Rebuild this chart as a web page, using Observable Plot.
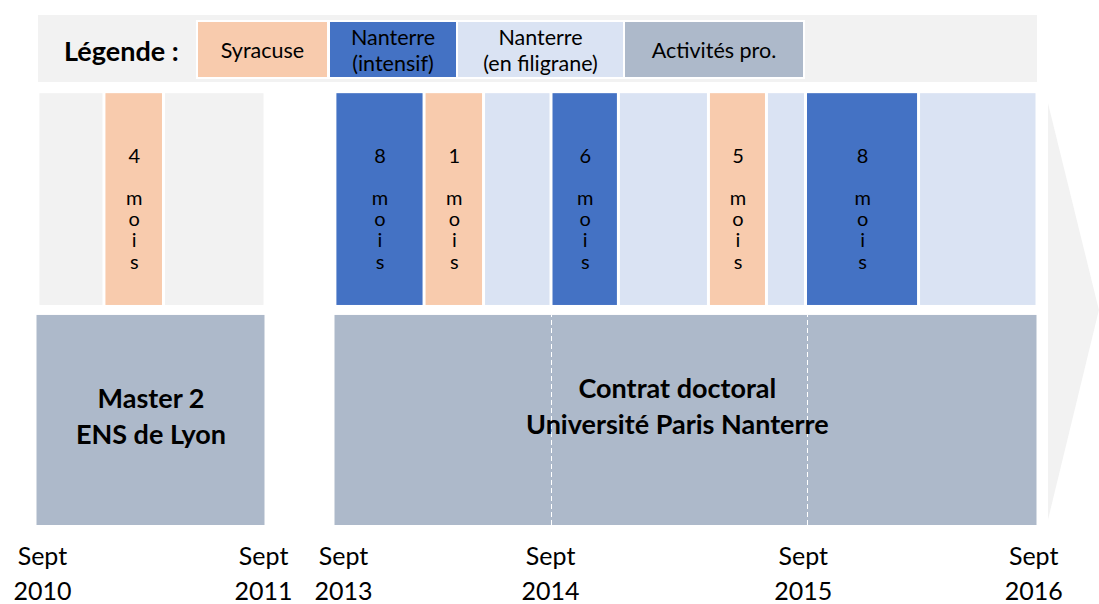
<!DOCTYPE html>
<html><head><meta charset="utf-8">
<script src="https://cdn.jsdelivr.net/npm/d3@7"></script>
<script src="https://cdn.jsdelivr.net/npm/@observablehq/plot@0.6"></script>
<style>
body{margin:0;background:#fff;font-family:Lato,"Open Sans",sans-serif;color:#000;}
#legend{position:relative;width:1099px;height:88px;}
#legend .band{position:absolute;left:38px;top:15px;width:999px;height:67px;background:#f2f2f2;}
#legend .title{position:absolute;left:64px;top:15px;height:67px;line-height:72px;font-weight:bold;font-size:27px;}
#legend .box{position:absolute;top:20px;height:59px;box-sizing:border-box;border:2px solid #fff;
  display:flex;align-items:center;justify-content:center;text-align:center;white-space:pre-line;font-size:21.5px;line-height:26px;}
#chart svg{display:block;}
</style></head><body>
<div id="legend"></div>
<div id="chart"></div>
<script>
// ---- Data ----
// Timeline positions are in months since September 2010
const tickMonths = [0, 12, 36, 48, 60, 72];
const tickLabels = ["Sept\n2010", "Sept\n2011", "Sept\n2013", "Sept\n2014", "Sept\n2015", "Sept\n2016"];
// where each date label sits along the timeline (months)
const tickLabelAt = [0.31, 11.9, 36.5, 47.95, 59.8, 71.8];

// Categories (legend)
const categories = ["Syracuse", "Nanterre (intensif)", "Nanterre (en filigrane)", "Activités pro.", "fond"];
const legendLabels = ["Syracuse", "Nanterre\n(intensif)", "Nanterre\n(en filigrane)", "Activités pro."];

// Upper lane: stays
const stayType  = ["fond", "Syracuse", "fond", "Nanterre (intensif)", "Syracuse", "Nanterre (en filigrane)", "Nanterre (intensif)", "Nanterre (en filigrane)", "Syracuse", "Nanterre (en filigrane)", "Nanterre (intensif)", "Nanterre (en filigrane)"];
const stayStart = [0.1, 3.56, 6.68, 36.05, 40.98, 44.27, 48.0, 51.16, 55.38, 58.10, 59.93, 65.82];
const stayEnd   = [3.56, 6.68, 12.0, 40.98, 44.27, 48.0, 51.16, 55.38, 58.10, 59.93, 65.82, 72.0];
const stayMonths = [null, 4, null, 8, 1, null, 6, null, 5, null, 8, null];

// Lower lane: professional activities
const actLabels = ["Master 2\nENS de Lyon", "Contrat doctoral\nUniversité Paris Nanterre"];
const actStart = [0, 36];
const actEnd = [12, 72];
const actLabelAt = [6, 53.9];
const yearMarks = [48, 60];

// ---- Layout / style (not data) ----
const palette = ["#f8cbad", "#4472c4", "#dae3f3", "#adb9ca", "#f2f2f2"];
const xPixels = [36, 265, 334, 551, 807, 1037];
const legendLeft = [196, 328, 456, 623];
const legendWidth = [133, 130, 169, 182];

// ---- Legend (HTML, above the SVG) ----
const leg = d3.select("#legend");
leg.append("div").attr("class", "band");
leg.append("div").attr("class", "title").text("Légende :");
legendLabels.forEach((t, i) => {
  leg.append("div").attr("class", "box")
    .style("left", legendLeft[i] + "px").style("width", legendWidth[i] + "px")
    .style("background", palette[i]).text(t);
});

// ---- Build tables ----
const stays = stayType.map((t, i) => ({type: t, x1: stayStart[i], x2: stayEnd[i], months: stayMonths[i]}));
const acts = actLabels.map((l, i) => ({label: l, x1: actStart[i], x2: actEnd[i], lx: actLabelAt[i], type: "Activités pro."}));
const lastMonth = tickMonths[tickMonths.length - 1];
const chevron = [
  {x: lastMonth + 0.57, y1: 0.023, y2: 1.945},
  {x: lastMonth + 3.23, y1: 0.991, y2: 0.991}
];

const chart = Plot.plot({
  width: 1099, height: 516,
  marginTop: 3, marginBottom: 79, marginLeft: 36, marginRight: 62,
  x: {type: "linear", domain: tickMonths, range: xPixels},
  y: {domain: [0, 2], axis: null},
  color: {domain: categories, range: palette},
  style: {fontFamily: "Lato, sans-serif", color: "#000", background: "transparent", overflow: "visible"},
  marks: [
    Plot.area(chevron, {x1: "x", y1: "y1", y2: "y2", fill: "#f2f2f2"}),
    Plot.rect(stays, {x1: "x1", x2: "x2", y1: 1.014, y2: 1.99, fill: "type", insetLeft: 1.5, insetRight: 1.5}),
    Plot.text(stays.filter(d => d.months != null), {
      x: d => (d.x1 + d.x2) / 2, y: 1.742,
      text: d => `${d.months}\n\nm\no\ni\ns`,
      lineAnchor: "top", fontSize: 20, lineHeight: 1.06, fill: "#000"
    }),
    Plot.rect(acts, {x1: "x1", x2: "x2", y1: 0, y2: 0.968, fill: "type", insetLeft: 0.5, insetRight: 0.5}),
    Plot.ruleX(yearMarks, {y1: 0, y2: 0.968, stroke: "#fff", strokeWidth: 1, strokeDasharray: "5,3"}),
    Plot.text(acts, {x: "lx", y: (d, i) => i === 0 ? 0.51 : 0.557, text: "label", fontWeight: "bold", fontSize: 27, lineHeight: 1.33, fill: "#000"}),
    Plot.axisX(tickLabelAt, {
      tickFormat: d => tickLabels[tickLabelAt.indexOf(d)],
      tickSize: 0, tickPadding: 14, fontSize: 25, lineHeight: 1.42, label: null
    })
  ]
});
document.getElementById("chart").appendChild(chart);
</script>
</body></html>
